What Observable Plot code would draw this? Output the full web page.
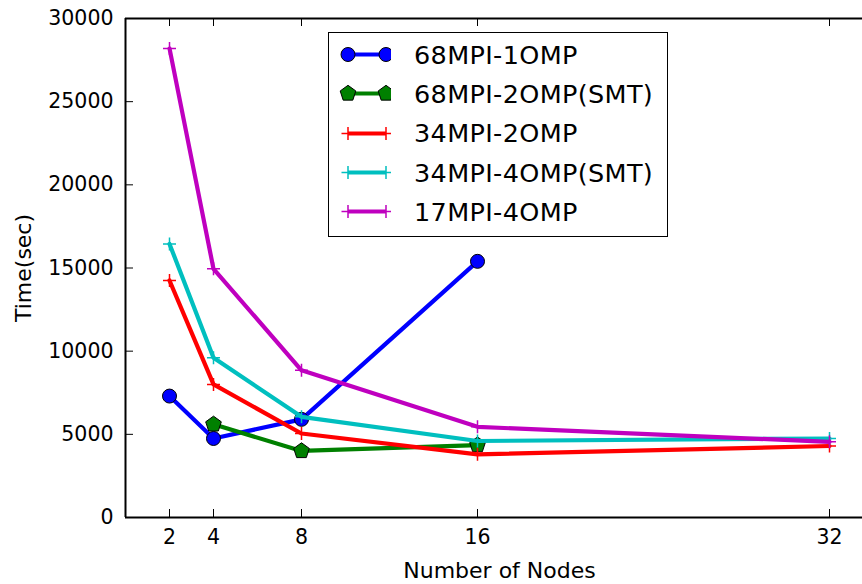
<!DOCTYPE html>
<html>
<head>
<meta charset="utf-8">
<script src="https://cdn.jsdelivr.net/npm/d3@7"></script>
<script src="https://cdn.jsdelivr.net/npm/@observablehq/plot@0.6"></script>
<style>
  html, body { margin: 0; padding: 0; background: #fff; }
  #wrap { position: relative; width: 862px; height: 584px; overflow: hidden; font-family: "DejaVu Sans", sans-serif; }
  #legend { position: absolute; left: 328px; top: 32px; width: 338px; height: 201px; border: 1.6px solid #000; background: #fff; padding-top: 2px; box-sizing: content-box; }
  .row { display: flex; align-items: center; height: 39.3px; }
  .row svg { flex: none; }
  .row span { font-size: 25.5px; letter-spacing: 0.35px; color: #000; margin-left: 23px; white-space: nowrap; }
</style>
</head>
<body>
<div id="wrap"></div>
<script>
// Run time versus node count for each MPI/OpenMP layout
const nodes = [2, 4, 8, 16, 32];
const seriesNames = ["68MPI-1OMP", "68MPI-2OMP(SMT)", "34MPI-2OMP", "34MPI-4OMP(SMT)", "17MPI-4OMP"];
const nodes68x1 = [2, 4, 8, 16];
const time68x1 = [7300, 4750, 5900, 15400];
const nodes68x2 = [4, 8, 16];
const time68x2 = [5600, 4000, 4350];
const time34x2 = [14250, 8000, 5050, 3800, 4300];
const time34x4 = [16450, 9600, 6050, 4600, 4750];
const time17x4 = [28200, 14950, 8850, 5450, 4550];
const xTicks = [2, 4, 8, 16, 32];
const yTicks = [0, 5000, 10000, 15000, 20000, 25000, 30000];

// marker shapes drawn with the symbol size Plot passes in (r² π)
const rad = size => Math.sqrt(size / Math.PI);
const circleSym = {draw(ctx, size) { const r = rad(size); ctx.moveTo(r, 0); ctx.arc(0, 0, r, 0, 2 * Math.PI); ctx.closePath(); }};
const pentagonSym = {draw(ctx, size) {
  const r = rad(size);
  for (let i = 0; i < 5; i++) {
    const a = -Math.PI / 2 + i * 2 * Math.PI / 5;
    const x = r * Math.cos(a), y = r * Math.sin(a);
    if (i) ctx.lineTo(x, y); else ctx.moveTo(x, y);
  }
  ctx.closePath();
}};
const plusSym = {draw(ctx, size) { const r = rad(size); ctx.moveTo(-r, 0); ctx.lineTo(r, 0); ctx.moveTo(0, -r); ctx.lineTo(0, r); }};

const styles = [
  {color: "#0000ff", symbol: circleSym, r: 7, fill: "#0000ff", stroke: "#000", sw: 1},
  {color: "#008000", symbol: pentagonSym, r: 8.2, fill: "#008000", stroke: "#000", sw: 1},
  {color: "#ff0000", symbol: plusSym, r: 6.5, fill: "none", stroke: "#ff0000", sw: 1.5},
  {color: "#00bfbf", symbol: plusSym, r: 6.5, fill: "none", stroke: "#00bfbf", sw: 1.5},
  {color: "#bf00bf", symbol: plusSym, r: 6.5, fill: "none", stroke: "#bf00bf", sw: 1.5}
];

const series = [
  nodes68x1.map((n, i) => ({n, t: time68x1[i]})),
  nodes68x2.map((n, i) => ({n, t: time68x2[i]})),
  nodes.map((n, i) => ({n, t: time34x2[i]})),
  nodes.map((n, i) => ({n, t: time34x4[i]})),
  nodes.map((n, i) => ({n, t: time17x4[i]}))
];

const W = 862, H = 584, mL = 125, mR = 0, mT = 18, mB = 67;
const frameW = W - mL - mR, frameH = H - mT - mB, tick = 8;

const seriesMarks = series.flatMap((data, i) => {
  const s = styles[i];
  return [
    Plot.line(data, {x: "n", y: "t", stroke: s.color, strokeWidth: 4.2, strokeLinejoin: "round"}),
    Plot.dot(data, {x: "n", y: "t", symbol: s.symbol, r: s.r, fill: s.fill, stroke: s.stroke, strokeWidth: s.sw})
  ];
});

const chart = Plot.plot({
  width: W, height: H,
  marginLeft: mL, marginRight: mR, marginTop: mT, marginBottom: mB,
  style: {fontFamily: "DejaVu Sans", background: "#fff", color: "#000"},
  x: {domain: [0, 33.5]},
  y: {domain: [0, 30000]},
  marks: [
    // inward ticks on the bottom, top and left spines
    Plot.tickX(xTicks, {x: d => d, insetTop: frameH - tick, stroke: "#000", strokeWidth: 1}),
    Plot.tickX(xTicks, {x: d => d, insetBottom: frameH - tick, stroke: "#000", strokeWidth: 1}),
    Plot.tickY(yTicks, {y: d => d, insetRight: frameW - tick, stroke: "#000", strokeWidth: 1}),
    Plot.axisX({ticks: xTicks, tickSize: 0, tickPadding: 12, fontSize: 20.5, label: null}),
    Plot.axisY({ticks: yTicks, tickSize: 0, tickPadding: 12, fontSize: 20.5, label: null, tickFormat: d3.format("d")}),
    ...seriesMarks,
    Plot.ruleX([0], {stroke: "#000", strokeWidth: 2}),
    Plot.ruleY([0, 30000], {stroke: "#000", strokeWidth: 2}),
    Plot.text(["Time(sec)"], {frameAnchor: "left", textAnchor: "middle", lineAnchor: "middle", dx: -101.5, rotate: -90, fontSize: 22, fill: "#000"}),
    Plot.text(["Number of Nodes"], {frameAnchor: "bottom", textAnchor: "middle", lineAnchor: "middle", dx: 5.5, dy: 53, fontSize: 22, fill: "#000"})
  ]
});

const wrap = document.getElementById("wrap");
wrap.appendChild(chart);

// legend box inside the axes
const legend = d3.select(wrap).append("div").attr("id", "legend");
seriesNames.forEach((name, i) => {
  const s = styles[i];
  const row = legend.append("div").attr("class", "row");
  const sw = row.append("svg").attr("width", 62).attr("height", 39);
  sw.append("line").attr("x1", 19).attr("x2", 57).attr("y1", 19.5).attr("y2", 19.5)
    .attr("stroke", s.color).attr("stroke-width", 4.2);
  [19, 57].forEach(cx => {
    sw.append("path")
      .attr("d", d3.symbol(s.symbol, s.r * s.r * Math.PI)())
      .attr("transform", `translate(${cx},19.5)`)
      .attr("fill", s.fill).attr("stroke", s.stroke).attr("stroke-width", s.sw);
  });
  row.append("span").text(name);
});
</script>
</body>
</html>
